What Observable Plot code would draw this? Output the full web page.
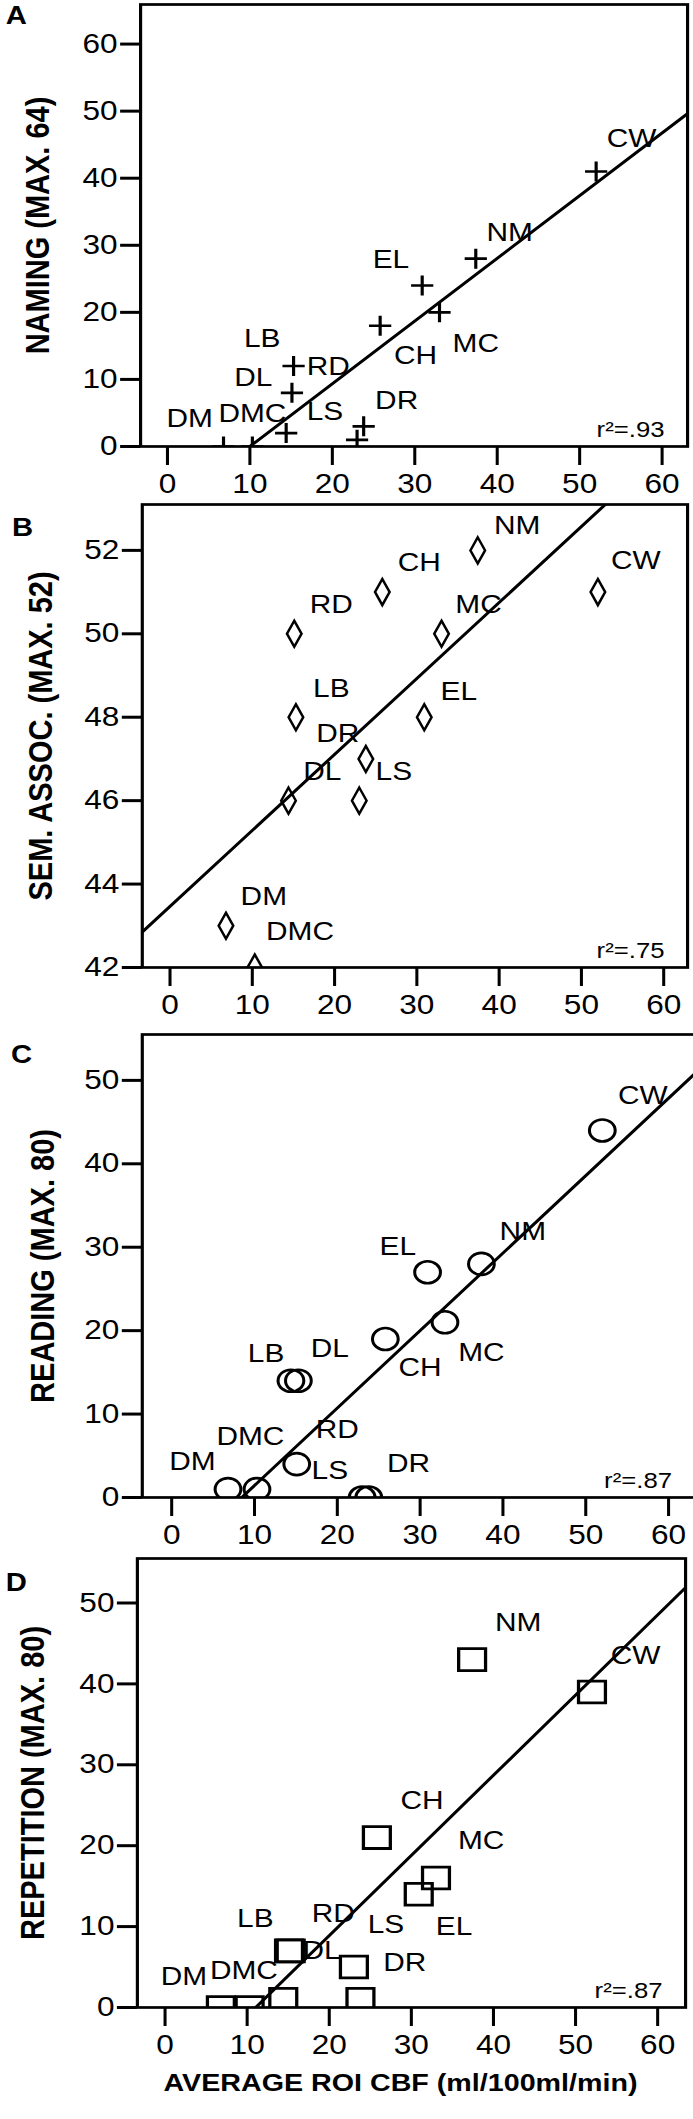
<!DOCTYPE html>
<html>
<head>
<meta charset="utf-8">
<script src="https://cdn.jsdelivr.net/npm/d3@7"></script>
<script src="https://cdn.jsdelivr.net/npm/@observablehq/plot@0.6"></script>
<style>
html, body { margin: 0; padding: 0; background: #fff; overflow: hidden; }
#wrap { position: relative; width: 693px; height: 2119px; overflow: hidden; background: #fff; }
</style>
</head>
<body>
<div id="wrap"></div>
<script>
// ---- data ----
const patients   = ["DM", "DMC", "DL", "RD", "LB", "LS", "DR", "CH", "EL", "MC", "NM", "CW"];
const cbf        = [6.8, 10.3, 14.4, 15.1, 15.3, 23.0, 23.8, 25.8, 30.9, 33.0, 37.4, 52.0];
const naming     = [0, 0, 2, 8, 12, 1, 3, 18, 24, 20, 28, 41];
const semAssoc   = [43, 42, 46, 50, 48, 46, 47, 51, 48, 50, 52, 51];
const reading    = [1, 1, 14, 4, 14, 0, 0, 19, 27, 21, 28, 44];
const repetition = [0, 0, 1, 7, 7, 5, 1, 21, 14, 16, 43, 39];
const r2Values   = [".93", ".75", ".87", ".87"];
const panelLetters = ["A", "B", "C", "D"];
const yTitles = ["NAMING (MAX. 64)", "SEM. ASSOC. (MAX. 52)", "READING (MAX. 80)", "REPETITION (MAX. 80)"];
const xTitle = "AVERAGE ROI CBF (ml/100ml/min)";
const xTicks = [0, 10, 20, 30, 40, 50, 60];
const yTicksA = [0, 10, 20, 30, 40, 50, 60];
const yTicksB = [42, 44, 46, 48, 50, 52];
const yTicksC = [0, 10, 20, 30, 40, 50];
const yTicksD = [0, 10, 20, 30, 40, 50];

// label anchor positions, in data units, same order as patients
const labelsA = [[2.7,4.1],[10.3,4.8],[10.4,10.2],[19.5,11.9],[11.5,16.0],[19.1,5.1],[27.8,6.8],[30.1,13.5],[27.1,27.8],[37.4,15.3],[41.5,31.9],[56.3,45.8]];
const labelsB = [[11.4,43.7],[15.8,42.86],[18.5,46.7],[19.6,50.7],[19.6,48.67],[27.2,46.7],[20.4,47.6],[30.3,51.7],[35.1,48.6],[37.5,50.7],[42.2,52.6],[56.6,51.75]];
const labelsC = [[2.5,4.3],[9.5,7.3],[19.1,17.8],[20.0,8.1],[11.4,17.2],[19.1,3.2],[28.6,4.0],[30.0,15.5],[27.3,30.1],[37.4,17.3],[42.4,31.9],[56.9,48.2]];
const labelsD = [[2.3,3.8],[9.6,4.5],[19.05,7.0],[20.5,11.6],[11.0,10.9],[26.9,10.2],[29.2,5.5],[31.3,25.5],[35.2,10.0],[38.5,20.6],[43.0,47.6],[57.3,43.5]];

// ---- drawing ----
const S = 1.17; // the original figure is stretched horizontally
const FONT = "'Liberation Sans', Arial, Helvetica, sans-serif";
const wrap = document.getElementById("wrap");

function ols(xs, ys) {
  const mx = d3.mean(xs), my = d3.mean(ys);
  let sxy = 0, sxx = 0;
  xs.forEach((x, i) => { sxy += (x - mx) * (ys[i] - my); sxx += (x - mx) ** 2; });
  const b = sxy / sxx, a = my - b * mx;
  return (x) => a + b * x;
}

const plusSym = {draw(ctx, size) { const r = Math.sqrt(size / Math.PI); ctx.moveTo(-r * 0.95, 0); ctx.lineTo(r * 0.95, 0); ctx.moveTo(0, -r); ctx.lineTo(0, r); }};
const diamondSym = {draw(ctx, size) { const r = Math.sqrt(size / Math.PI), w = r * 0.48; ctx.moveTo(0, -r); ctx.lineTo(w, 0); ctx.lineTo(0, r); ctx.lineTo(-w, 0); ctx.closePath(); }};
const circleSym = {draw(ctx, size) { const r = Math.sqrt(size / Math.PI); ctx.moveTo(r, 0); ctx.arc(0, 0, r, 0, 2 * Math.PI); }};
const squareSym = {draw(ctx, size) { const r = Math.sqrt(size / Math.PI); ctx.rect(-r, -r * 0.95, 2 * r, 1.9 * r); }};

function panel(cfg, ys, labelPos, idx) {
  const f = ols(cbf, ys);
  const rows = patients.map((p, i) => ({p, x: cbf[i], y: ys[i]}));
  const labs = patients.map((p, i) => ({p, x: labelPos[i][0], y: labelPos[i][1]}));
  const fitRows = cfg.xDomain.map((x) => ({x, y: f(x)}));
  const wFull = cfg.wFull || 693;
  const marks = [
    Plot.line(fitRows, {x: "x", y: "y", stroke: "#000", strokeWidth: 2.8, clip: true}),
    Plot.dot(rows, {x: "x", y: "y", symbol: cfg.symbol, r: cfg.r, stroke: "#000", fill: "none", strokeWidth: cfg.sw, clip: true}),
    Plot.text(labs, {x: "x", y: "y", text: "p", fontSize: 25.5, fill: "#000"}),
    Plot.frame({stroke: "#000", strokeWidth: 2.7}),
    Plot.axisY({ticks: cfg.yTicks, tickSize: 17, tickPadding: 2.6, fontSize: 27, strokeWidth: 3, label: null, tickFormat: d3.format("d")}),
    Plot.axisX({ticks: xTicks, tickSize: 19, tickPadding: 8, fontSize: 27, strokeWidth: 2.6, label: null, tickFormat: d3.format("d")}),
    Plot.text(["r\u00B2=" + r2Values[idx]], {frameAnchor: "bottom-right", textAnchor: "end", lineAnchor: "middle", dx: -23 / S, dy: -17, fontSize: 22}),
    Plot.text([yTitles[idx]], {frameAnchor: "left", textAnchor: "middle", lineAnchor: "middle", rotate: -90, dx: (cfg.titleX - cfg.L) / S, fontSize: 29, fontWeight: "bold"}),
    Plot.text([panelLetters[idx]], {frameAnchor: "top-left", textAnchor: "middle", lineAnchor: "middle", dx: (cfg.letter[0] - cfg.L) / S, dy: cfg.letter[1] - cfg.T, fontSize: 25, fontWeight: "bold"})
  ];
  if (cfg.xTitle) {
    marks.push(Plot.text([xTitle], {frameAnchor: "bottom", textAnchor: "middle", lineAnchor: "middle", dx: -9.4, dy: 76, fontSize: 24.5, fontWeight: "bold"}));
  }
  const svg = Plot.plot({
    width: wFull / S,
    height: cfg.height,
    marginLeft: cfg.L / S,
    marginRight: (wFull - cfg.R) / S,
    marginTop: cfg.T - cfg.top,
    marginBottom: cfg.top + cfg.height - cfg.B,
    x: {domain: cfg.xDomain},
    y: {domain: cfg.yDomain},
    style: {fontFamily: FONT, background: "transparent", overflow: "visible", color: "#000", maxWidth: "none"},
    marks
  });
  svg.style.position = "absolute";
  svg.style.left = "0px";
  svg.style.top = cfg.top + "px";
  svg.style.transformOrigin = "0 0";
  svg.style.transform = `scale(${S},1)`;
  wrap.appendChild(svg);
}

panel({top: 0, height: 504, L: 140, R: 687, T: 4, B: 446, xDomain: [-3.26, 63.09], yDomain: [0, 65.9], yTicks: yTicksA,
       symbol: plusSym, r: 10, sw: 2.7, letter: [15.8, 15.3], titleX: 37.5}, naming, labelsA, 0);
panel({top: 494, height: 530, L: 141.7, R: 687, T: 504, B: 967, xDomain: [-3.37, 62.9], yDomain: [42, 53.1], yTicks: yTicksB,
       symbol: diamondSym, r: 13, sw: 2.2, letter: [22, 527], titleX: 41}, semAssoc, labelsB, 1);
panel({top: 1024, height: 530, L: 141.7, R: 694.5, wFull: 700, T: 1034, B: 1497, xDomain: [-3.55, 63.2], yDomain: [0, 55.5], yTicks: yTicksC,
       symbol: circleSym, r: 11, sw: 2.6, letter: [21, 1054.5], titleX: 42.5}, reading, labelsC, 2);
panel({top: 1548, height: 571, L: 136.8, R: 685, T: 1558, B: 2007, xDomain: [-3.37, 63.4], yDomain: [0, 55.5], yTicks: yTicksD,
       symbol: squareSym, r: 11.5, sw: 2.8, letter: [15.6, 1582], titleX: 33, xTitle: true}, repetition, labelsD, 3);
</script>
</body>
</html>
